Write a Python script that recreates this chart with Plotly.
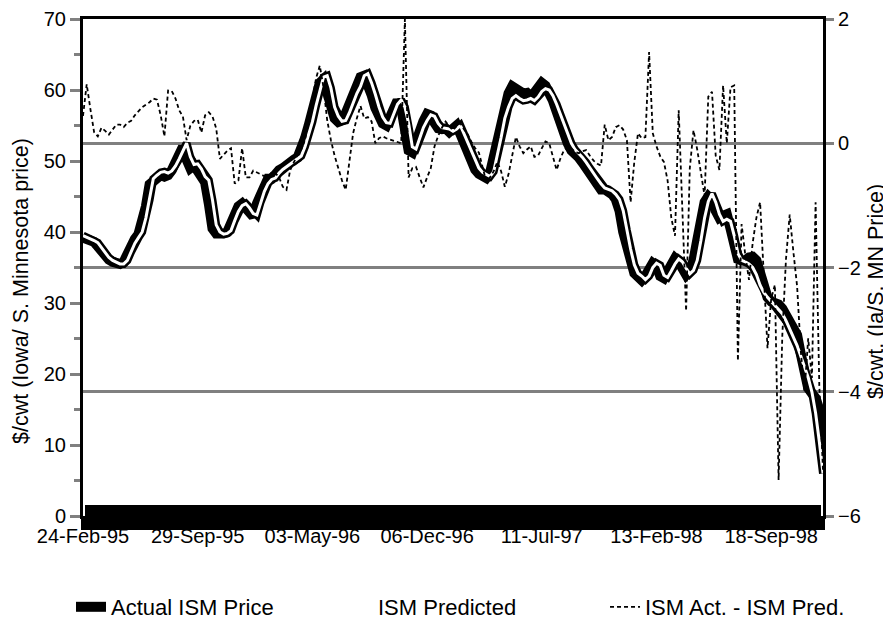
import pandas as pd
import plotly.graph_objects as go

# ---------------- data ----------------
weeks = pd.date_range("1995-02-24", periods=201, freq="7D")

actual_ism = [
    39.2, 39.0, 38.8, 38.6, 38.0, 37.2, 36.5, 36.1, 35.8, 35.5,
    35.5, 35.8, 37.0, 38.2, 39.0, 39.7, 41.5, 43.6, 46.7, 47.3,
    47.8, 48.0, 47.8, 48.0, 48.7, 49.6, 50.8, 52.0, 50.2, 49.0,
    49.4, 48.6, 47.4, 47.0, 44.0, 40.5, 39.8, 39.7, 39.8, 40.0,
    41.5, 42.8, 43.6, 44.0, 43.3, 42.5, 42.2, 44.0, 45.5, 46.8,
    47.5, 47.5, 48.2, 48.7, 49.0, 49.5, 49.8, 50.2, 50.5, 51.7,
    53.2, 55.0, 57.2, 59.5, 61.0, 61.5, 59.8, 57.2, 56.0, 55.5,
    55.7, 56.7, 58.0, 59.2, 60.2, 61.8, 62.0, 60.8, 59.3, 57.5,
    56.0, 55.3, 55.0, 56.5, 57.8, 58.5, 57.5, 55.0, 51.5, 51.2,
    53.0, 54.6, 55.6, 56.6, 56.4, 55.4, 54.6, 54.5, 54.6, 54.1,
    54.4, 55.0, 53.8, 52.3, 51.2, 49.8, 48.8, 48.2, 48.0, 47.6,
    48.3, 50.5, 53.0, 56.0, 57.8, 59.5, 60.5, 60.1, 59.6, 59.5,
    59.6, 59.1, 59.6, 60.4, 61.0, 60.6, 59.8, 58.5, 57.0, 55.2,
    53.8, 52.5, 51.5, 51.2, 50.5, 49.8, 49.0, 48.2, 47.5, 46.8,
    46.0, 46.0, 45.8, 45.3, 44.6, 43.0, 40.0, 37.5, 35.2, 34.2,
    33.7, 33.2, 33.8, 35.0, 35.6, 35.2, 33.8, 33.5, 34.5, 35.5,
    36.3, 35.8, 34.8, 34.0, 34.6, 36.0, 38.8, 42.0, 44.2, 45.0,
    44.5, 43.0, 42.0, 42.3, 42.5, 40.5, 37.5, 36.2, 36.0, 36.0,
    36.4, 36.5, 36.0, 34.0, 32.0, 30.8, 30.2, 30.1, 29.8, 29.2,
    28.2, 27.3, 26.6, 25.5, 22.8, 19.8, 18.0, 17.3, 16.6, 15.0,
    10.2,
]

ism_predicted = [
    39.5, 39.3, 39.0, 38.8, 38.5, 37.8, 37.0, 36.4, 36.0, 35.7,
    35.5, 35.5, 36.0, 37.2, 38.4, 39.2, 40.0, 42.0, 44.5, 47.5,
    48.0, 48.4, 48.5, 48.3, 48.6, 49.3, 50.3, 51.5, 52.5, 50.6,
    49.5, 49.6, 48.9, 47.8, 47.3, 44.5, 41.0, 40.0, 39.7, 39.8,
    40.2, 41.6, 42.9, 43.7, 44.0, 43.4, 42.6, 42.4, 44.2, 45.7,
    46.8, 47.4, 47.6, 48.3, 48.8, 49.2, 49.6, 49.9, 50.3, 50.7,
    52.0, 53.6, 55.5, 57.8, 60.0, 61.8, 62.0, 60.3, 57.6, 56.3,
    55.6, 55.7, 56.8, 58.2, 59.5, 60.5, 62.0, 62.3, 61.0, 59.4,
    57.6, 56.2, 55.4, 55.3, 56.7, 58.0, 58.6, 57.6, 55.3, 52.0,
    51.7, 53.2, 54.7, 55.7, 56.5, 56.3, 55.3, 54.7, 54.6, 54.5,
    54.2, 54.5, 55.0, 53.8, 52.4, 51.3, 50.0, 49.0, 48.4, 48.1,
    47.8, 48.5, 50.8, 53.3, 56.0, 57.6, 58.8, 59.2, 58.8, 58.5,
    58.6, 58.8, 58.5, 59.0, 59.8, 60.2, 60.0, 59.2, 58.0, 56.6,
    55.0, 53.7, 52.5, 51.6, 51.1, 50.5, 49.8, 49.0, 48.2, 47.5,
    46.8, 46.2, 46.0, 45.8, 45.3, 44.6, 43.0, 40.2, 37.6, 35.4,
    34.2, 33.8, 33.3, 33.8, 35.0, 35.6, 35.3, 33.9, 33.6, 34.5,
    35.5, 36.2, 35.8, 34.9, 34.1, 34.6, 36.0, 38.8, 42.0, 44.3,
    45.4, 44.2, 42.5, 41.5, 41.8, 41.5, 39.5, 37.0, 36.0, 35.8,
    35.5, 35.0, 34.0, 32.5, 31.5, 30.8, 30.2, 29.6, 29.0, 28.5,
    27.5, 26.3, 25.3, 24.0, 22.5, 21.0, 19.5, 17.5, 14.5, 10.5,
    6.0,
]

act_minus_pred = [
    0.44, 0.95, 0.55, 0.18, 0.11, 0.25, 0.20, 0.14, 0.22, 0.30,
    0.30, 0.26, 0.33, 0.36, 0.45, 0.52, 0.58, 0.62, 0.66, 0.72,
    0.70, 0.45, 0.11, 0.85, 0.84, 0.72, 0.53, 0.43, 0.05, 0.28,
    0.36, 0.38, 0.17, 0.45, 0.50, 0.43, 0.24, -0.25, -0.18, -0.12,
    -0.08, -0.65, -0.60, -0.08, -0.55, -0.55, -0.44, -0.47, -0.50, -0.53,
    -0.53, -0.47, -0.48, -0.55, -0.70, -0.75, -0.43, -0.30, -0.18, -0.10,
    0.05, 0.35, 0.70, 1.05, 1.25, 0.90, 0.37, 0.05, -0.20, -0.40,
    -0.60, -0.75, -0.30, 0.16, 0.40, 0.60, 0.40, 0.42, 0.35, 0.00,
    0.08, 0.11, 0.08, 0.06, 0.05, 0.02, 0.00, 2.00, -0.55, -0.40,
    -0.38, -0.55, -0.71, -0.55, -0.40, -0.05, 0.12, 0.25, 0.35, 0.27,
    0.21, 0.28, 0.32, 0.22, 0.14, 0.02, -0.08, -0.15, -0.40, -0.62,
    -0.55, -0.45, -0.30, -0.45, -0.70, -0.50, -0.20, 0.10, -0.05, -0.16,
    -0.10, -0.05, -0.22, -0.20, -0.08, 0.03, 0.00, -0.20, -0.43, -0.25,
    -0.11, -0.06, -0.08, -0.14, -0.16, -0.13, -0.11, -0.20, -0.28, -0.33,
    -0.36, 0.30, 0.05, 0.10, 0.26, 0.29, 0.22, 0.05, -0.95, -0.30,
    0.16, 0.08, 0.10, 1.47, 0.16, -0.05, -0.21, -0.30, -0.60, -1.20,
    -1.49, 0.53, -1.00, -2.70, -0.40, 0.21, -0.10, -0.50, -0.85, 0.75,
    0.83, -0.20, -0.43, 0.93, 0.00, 0.90, 0.93, -3.50, -1.30, -1.80,
    -2.20, -1.60, -1.20, -0.95, -2.20, -3.30, -2.50, -2.28, -5.42, -3.10,
    -1.86, -1.15, -1.75, -2.30, -3.35, -4.00, -3.14, -3.78, -0.95, -3.90,
    -5.27,
]

tick_dates = ["1995-02-24", "1995-09-29", "1996-05-03", "1996-12-06",
              "1997-07-11", "1998-02-13", "1998-09-18"]
tick_labels = ["24-Feb-95", "29-Sep-95", "03-May-96", "06-Dec-96",
               "11-Jul-97", "13-Feb-98", "18-Sep-98"]

left_title = "$/cwt (Iowa/ S. Minnesota price)"
right_title = "$/cwt. (Ia/S. MN Price)"

# ---------------- figure ----------------
# The page body has an 8 px margin, so the figure is sized 8 px smaller.
FONT = "Liberation Sans, Arial, sans-serif"
GRAY = "#808080"
WEEK_MS = 7 * 24 * 3600 * 1000
x_range = [weeks[0], weeks[-1]]

fig = go.Figure()

fig.add_trace(go.Scatter(
    x=weeks, y=actual_ism, name="Actual ISM Price", mode="lines",
    line=dict(color="black", width=10), xaxis="x", yaxis="y"))
fig.add_trace(go.Scatter(
    x=weeks, y=ism_predicted, name="ISM Predicted outline", mode="lines",
    line=dict(color="black", width=8), showlegend=False, hoverinfo="skip",
    xaxis="x", yaxis="y"))
fig.add_trace(go.Scatter(
    x=weeks, y=ism_predicted, name="ISM Predicted", mode="lines",
    line=dict(color="white", width=3), xaxis="x", yaxis="y"))
fig.add_trace(go.Scatter(
    x=weeks, y=act_minus_pred, name="ISM Act. - ISM Pred.", mode="lines",
    line=dict(color="black", width=1.8, dash="4px,3px"),
    xaxis="x2", yaxis="y2"))

tickfont = dict(family=FONT, size=20, color="black")

fig.update_layout(
    width=883, height=612,
    margin=dict(l=75, r=68, t=11, b=104, autoexpand=False),
    paper_bgcolor="white", plot_bgcolor="white",
    font=dict(family=FONT, size=20, color="black"),
    xaxis=dict(
        type="date", range=x_range, automargin=False, tickangle=0,
        tickvals=tick_dates, ticktext=tick_labels,
        ticks="outside", ticklen=11, tickwidth=3.5, tickcolor="black",
        ticklabelstandoff=-11, ticklabeloverflow="allow",
        minor=dict(dtick=WEEK_MS, tick0=tick_dates[0], ticks="outside",
                   ticklen=11, tickwidth=3.5, tickcolor="black",
                   showgrid=False),
        showline=True, linewidth=3, linecolor="black", mirror=True,
        showgrid=False, zeroline=False, tickfont=tickfont,
    ),
    xaxis2=dict(
        type="date", range=x_range, overlaying="x", anchor="y2",
        automargin=False,
        tickvals=tick_dates, showticklabels=False,
        ticks="inside", ticklen=11, tickwidth=3.5, tickcolor="black",
        minor=dict(dtick=WEEK_MS, tick0=tick_dates[0], ticks="inside",
                   ticklen=11, tickwidth=3.5, tickcolor="black",
                   showgrid=False),
        showline=False, showgrid=False, zeroline=False,
    ),
    yaxis=dict(
        range=[0, 70], dtick=10, tick0=0, automargin=False,
        ticklabeloverflow="allow",
        ticks="outside", ticklen=10, tickwidth=3, tickcolor=GRAY,
        minor=dict(dtick=5, ticks="outside", ticklen=6, tickwidth=3,
                   tickcolor=GRAY, showgrid=False),
        showline=True, linewidth=3, linecolor="black",
        showgrid=False, zeroline=False, tickfont=tickfont,
    ),
    yaxis2=dict(
        range=[-6, 2], dtick=2, tick0=0, overlaying="y", side="right",
        anchor="x", automargin=False, ticklabeloverflow="allow",
        ticks="outside", ticklen=8, tickwidth=3, tickcolor=GRAY,
        showline=True, linewidth=3, linecolor="black",
        showgrid=True, gridcolor=GRAY, gridwidth=3, zeroline=False,
        tickfont=tickfont,
    ),
    annotations=[
        dict(text=left_title, xref="paper", yref="paper",
             x=-0.0838, y=0.4527, xanchor="center", yanchor="middle",
             textangle=-90, showarrow=False,
             font=dict(family=FONT, size=21.5, color="black")),
        dict(text=right_title, xref="paper", yref="paper",
             x=1.0716, y=0.4527, xanchor="center", yanchor="middle",
             textangle=-90, showarrow=False,
             font=dict(family=FONT, size=21.5, color="black")),
    ],
    legend=dict(
        orientation="h", xref="paper", yref="paper",
        x=-0.0162, y=-0.1831, xanchor="left", yanchor="middle",
        entrywidth=222, entrywidthmode="pixels",
        font=dict(family=FONT, size=22, color="black"),
        bgcolor="rgba(0,0,0,0)", tracegroupgap=0, itemwidth=30,
    ),
    showlegend=True,
)

fig.write_html("out.html")
